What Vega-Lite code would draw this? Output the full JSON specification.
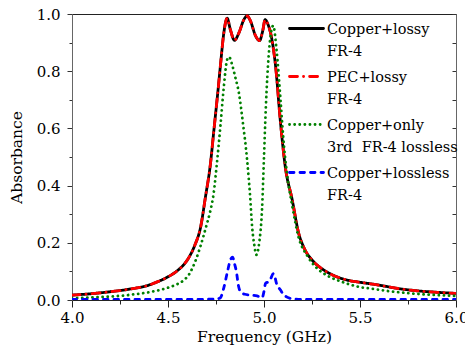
{
"$schema": "https://vega.github.io/schema/vega-lite/v6.json",
"width": 384, "height": 286,
"autosize": {"type": "none"},
"padding": {"left": 72, "top": 14, "right": 9, "bottom": 47},
"background": "white",
"config": {"view": {"stroke": "#222", "strokeWidth": 1}, "font": "DejaVu Serif"},
"data": {"values": [
{"f":4.00,"a":0.017,"s":"Copper+lossy"},{"f":4.10,"a":0.022,"s":"Copper+lossy"},{"f":4.20,"a":0.029,"s":"Copper+lossy"},{"f":4.30,"a":0.038,"s":"Copper+lossy"},{"f":4.40,"a":0.052,"s":"Copper+lossy"},{"f":4.45,"a":0.065,"s":"Copper+lossy"},{"f":4.50,"a":0.081,"s":"Copper+lossy"},{"f":4.55,"a":0.103,"s":"Copper+lossy"},{"f":4.58,"a":0.122,"s":"Copper+lossy"},{"f":4.61,"a":0.150,"s":"Copper+lossy"},{"f":4.64,"a":0.192,"s":"Copper+lossy"},{"f":4.67,"a":0.255,"s":"Copper+lossy"},{"f":4.695,"a":0.36,"s":"Copper+lossy"},{"f":4.72,"a":0.47,"s":"Copper+lossy"},{"f":4.74,"a":0.60,"s":"Copper+lossy"},{"f":4.76,"a":0.73,"s":"Copper+lossy"},{"f":4.776,"a":0.84,"s":"Copper+lossy"},{"f":4.79,"a":0.93,"s":"Copper+lossy"},{"f":4.808,"a":0.985,"s":"Copper+lossy"},{"f":4.825,"a":0.945,"s":"Copper+lossy"},{"f":4.846,"a":0.908,"s":"Copper+lossy"},{"f":4.87,"a":0.935,"s":"Copper+lossy"},{"f":4.895,"a":0.98,"s":"Copper+lossy"},{"f":4.912,"a":0.993,"s":"Copper+lossy"},{"f":4.93,"a":0.975,"s":"Copper+lossy"},{"f":4.955,"a":0.925,"s":"Copper+lossy"},{"f":4.977,"a":0.907,"s":"Copper+lossy"},{"f":4.993,"a":0.94,"s":"Copper+lossy"},{"f":5.006,"a":0.98,"s":"Copper+lossy"},{"f":5.02,"a":0.965,"s":"Copper+lossy"},{"f":5.04,"a":0.915,"s":"Copper+lossy"},{"f":5.06,"a":0.82,"s":"Copper+lossy"},{"f":5.086,"a":0.62,"s":"Copper+lossy"},{"f":5.11,"a":0.47,"s":"Copper+lossy"},{"f":5.147,"a":0.35,"s":"Copper+lossy"},{"f":5.18,"a":0.235,"s":"Copper+lossy"},{"f":5.21,"a":0.18,"s":"Copper+lossy"},{"f":5.25,"a":0.14,"s":"Copper+lossy"},{"f":5.30,"a":0.11,"s":"Copper+lossy"},{"f":5.35,"a":0.09,"s":"Copper+lossy"},{"f":5.43,"a":0.07,"s":"Copper+lossy"},{"f":5.50,"a":0.062,"s":"Copper+lossy"},{"f":5.59,"a":0.053,"s":"Copper+lossy"},{"f":5.70,"a":0.040,"s":"Copper+lossy"},{"f":5.80,"a":0.032,"s":"Copper+lossy"},{"f":5.90,"a":0.027,"s":"Copper+lossy"},{"f":6.00,"a":0.023,"s":"Copper+lossy"},
{"f":4.00,"a":0.017,"s":"PEC+lossy"},{"f":4.10,"a":0.022,"s":"PEC+lossy"},{"f":4.20,"a":0.029,"s":"PEC+lossy"},{"f":4.30,"a":0.038,"s":"PEC+lossy"},{"f":4.40,"a":0.052,"s":"PEC+lossy"},{"f":4.45,"a":0.065,"s":"PEC+lossy"},{"f":4.50,"a":0.081,"s":"PEC+lossy"},{"f":4.55,"a":0.103,"s":"PEC+lossy"},{"f":4.58,"a":0.122,"s":"PEC+lossy"},{"f":4.61,"a":0.150,"s":"PEC+lossy"},{"f":4.64,"a":0.192,"s":"PEC+lossy"},{"f":4.67,"a":0.255,"s":"PEC+lossy"},{"f":4.695,"a":0.36,"s":"PEC+lossy"},{"f":4.72,"a":0.47,"s":"PEC+lossy"},{"f":4.74,"a":0.60,"s":"PEC+lossy"},{"f":4.76,"a":0.73,"s":"PEC+lossy"},{"f":4.776,"a":0.84,"s":"PEC+lossy"},{"f":4.79,"a":0.93,"s":"PEC+lossy"},{"f":4.808,"a":0.985,"s":"PEC+lossy"},{"f":4.825,"a":0.945,"s":"PEC+lossy"},{"f":4.846,"a":0.908,"s":"PEC+lossy"},{"f":4.87,"a":0.935,"s":"PEC+lossy"},{"f":4.895,"a":0.98,"s":"PEC+lossy"},{"f":4.912,"a":0.993,"s":"PEC+lossy"},{"f":4.93,"a":0.975,"s":"PEC+lossy"},{"f":4.955,"a":0.925,"s":"PEC+lossy"},{"f":4.977,"a":0.907,"s":"PEC+lossy"},{"f":4.993,"a":0.94,"s":"PEC+lossy"},{"f":5.006,"a":0.98,"s":"PEC+lossy"},{"f":5.02,"a":0.965,"s":"PEC+lossy"},{"f":5.04,"a":0.915,"s":"PEC+lossy"},{"f":5.06,"a":0.82,"s":"PEC+lossy"},{"f":5.086,"a":0.62,"s":"PEC+lossy"},{"f":5.11,"a":0.47,"s":"PEC+lossy"},{"f":5.147,"a":0.35,"s":"PEC+lossy"},{"f":5.18,"a":0.235,"s":"PEC+lossy"},{"f":5.21,"a":0.18,"s":"PEC+lossy"},{"f":5.25,"a":0.14,"s":"PEC+lossy"},{"f":5.30,"a":0.11,"s":"PEC+lossy"},{"f":5.35,"a":0.09,"s":"PEC+lossy"},{"f":5.43,"a":0.07,"s":"PEC+lossy"},{"f":5.50,"a":0.062,"s":"PEC+lossy"},{"f":5.59,"a":0.053,"s":"PEC+lossy"},{"f":5.70,"a":0.040,"s":"PEC+lossy"},{"f":5.80,"a":0.032,"s":"PEC+lossy"},{"f":5.90,"a":0.027,"s":"PEC+lossy"},{"f":6.00,"a":0.023,"s":"PEC+lossy"},
{"f":4.00,"a":0.006,"s":"Copper+only"},{"f":4.10,"a":0.009,"s":"Copper+only"},{"f":4.20,"a":0.012,"s":"Copper+only"},{"f":4.30,"a":0.018,"s":"Copper+only"},{"f":4.40,"a":0.027,"s":"Copper+only"},{"f":4.50,"a":0.043,"s":"Copper+only"},{"f":4.55,"a":0.056,"s":"Copper+only"},{"f":4.58,"a":0.068,"s":"Copper+only"},{"f":4.61,"a":0.09,"s":"Copper+only"},{"f":4.642,"a":0.135,"s":"Copper+only"},{"f":4.67,"a":0.19,"s":"Copper+only"},{"f":4.70,"a":0.26,"s":"Copper+only"},{"f":4.72,"a":0.31,"s":"Copper+only"},{"f":4.738,"a":0.374,"s":"Copper+only"},{"f":4.755,"a":0.48,"s":"Copper+only"},{"f":4.773,"a":0.608,"s":"Copper+only"},{"f":4.79,"a":0.74,"s":"Copper+only"},{"f":4.808,"a":0.84,"s":"Copper+only"},{"f":4.818,"a":0.85,"s":"Copper+only"},{"f":4.835,"a":0.82,"s":"Copper+only"},{"f":4.85,"a":0.78,"s":"Copper+only"},{"f":4.869,"a":0.725,"s":"Copper+only"},{"f":4.89,"a":0.62,"s":"Copper+only"},{"f":4.912,"a":0.49,"s":"Copper+only"},{"f":4.928,"a":0.36,"s":"Copper+only"},{"f":4.938,"a":0.257,"s":"Copper+only"},{"f":4.95,"a":0.19,"s":"Copper+only"},{"f":4.96,"a":0.158,"s":"Copper+only"},{"f":4.975,"a":0.2,"s":"Copper+only"},{"f":4.99,"a":0.32,"s":"Copper+only"},{"f":5.0,"a":0.5,"s":"Copper+only"},{"f":5.01,"a":0.68,"s":"Copper+only"},{"f":5.025,"a":0.86,"s":"Copper+only"},{"f":5.048,"a":0.959,"s":"Copper+only"},{"f":5.065,"a":0.877,"s":"Copper+only"},{"f":5.086,"a":0.70,"s":"Copper+only"},{"f":5.10,"a":0.57,"s":"Copper+only"},{"f":5.12,"a":0.44,"s":"Copper+only"},{"f":5.147,"a":0.33,"s":"Copper+only"},{"f":5.18,"a":0.22,"s":"Copper+only"},{"f":5.225,"a":0.155,"s":"Copper+only"},{"f":5.27,"a":0.115,"s":"Copper+only"},{"f":5.33,"a":0.085,"s":"Copper+only"},{"f":5.40,"a":0.065,"s":"Copper+only"},{"f":5.50,"a":0.045,"s":"Copper+only"},{"f":5.556,"a":0.04,"s":"Copper+only"},{"f":5.65,"a":0.031,"s":"Copper+only"},{"f":5.75,"a":0.024,"s":"Copper+only"},{"f":5.85,"a":0.019,"s":"Copper+only"},{"f":6.00,"a":0.014,"s":"Copper+only"},
{"f":4.00,"a":0.002,"s":"Copper+lossless"},{"f":4.30,"a":0.002,"s":"Copper+lossless"},{"f":4.60,"a":0.002,"s":"Copper+lossless"},{"f":4.75,"a":0.003,"s":"Copper+lossless"},{"f":4.773,"a":0.008,"s":"Copper+lossless"},{"f":4.79,"a":0.041,"s":"Copper+lossless"},{"f":4.81,"a":0.10,"s":"Copper+lossless"},{"f":4.825,"a":0.14,"s":"Copper+lossless"},{"f":4.837,"a":0.15,"s":"Copper+lossless"},{"f":4.845,"a":0.13,"s":"Copper+lossless"},{"f":4.856,"a":0.10,"s":"Copper+lossless"},{"f":4.867,"a":0.05,"s":"Copper+lossless"},{"f":4.877,"a":0.029,"s":"Copper+lossless"},{"f":4.90,"a":0.02,"s":"Copper+lossless"},{"f":4.93,"a":0.017,"s":"Copper+lossless"},{"f":4.956,"a":0.015,"s":"Copper+lossless"},{"f":4.975,"a":0.012,"s":"Copper+lossless"},{"f":4.99,"a":0.008,"s":"Copper+lossless"},{"f":5.0,"a":0.03,"s":"Copper+lossless"},{"f":5.008,"a":0.058,"s":"Copper+lossless"},{"f":5.025,"a":0.065,"s":"Copper+lossless"},{"f":5.035,"a":0.075,"s":"Copper+lossless"},{"f":5.048,"a":0.092,"s":"Copper+lossless"},{"f":5.055,"a":0.085,"s":"Copper+lossless"},{"f":5.065,"a":0.058,"s":"Copper+lossless"},{"f":5.086,"a":0.035,"s":"Copper+lossless"},{"f":5.10,"a":0.02,"s":"Copper+lossless"},{"f":5.12,"a":0.01,"s":"Copper+lossless"},{"f":5.15,"a":0.004,"s":"Copper+lossless"},{"f":5.2,"a":0.002,"s":"Copper+lossless"},{"f":5.5,"a":0.002,"s":"Copper+lossless"},{"f":6.0,"a":0.002,"s":"Copper+lossless"}
]},
"encoding": {
  "x": {"field": "f", "type": "quantitative", "scale": {"domain": [4, 6], "nice": false},
    "axis": {"values": [4, 4.25, 4.5, 4.75, 5, 5.25, 5.5, 5.75, 6],
      "labelExpr": "datum.value % 0.5 == 0 ? format(datum.value, '.1f') : ''",
      "tickSize": {"condition": {"test": "datum.value % 0.5 != 0", "value": 4}, "value": 7},
      "title": "Frequency (GHz)", "titleFontSize": 15.5, "titleFontWeight": "normal", "titleFont": "DejaVu Serif", "titleColor": "black", "titlePadding": 4,
      "labelFontSize": 15, "labelFont": "DejaVu Serif", "labelColor": "black", "labelPadding": 3, "labelFlush": false, "labelOverlap": false,
      "domainColor": "#222", "tickColor": "#222", "grid": false}}
},
"layer": [
  {
    "mark": {"type": "line", "interpolate": "monotone", "strokeWidth": 2.8, "strokeCap": "round", "clip": true},
    "encoding": {
      "y": {"field": "a", "type": "quantitative", "scale": {"domain": [0, 1], "nice": false},
        "axis": {"values": [0, 0.1, 0.2, 0.3, 0.4, 0.5, 0.6, 0.7, 0.8, 0.9, 1.0],
          "labelExpr": "round(datum.value * 10) % 2 == 0 ? format(datum.value, '.1f') : ''",
          "tickSize": {"condition": {"test": "round(datum.value * 10) % 2 != 0", "value": 3}, "value": 5},
          "title": "Absorbance", "titleFontSize": 15.5, "titleFontWeight": "normal", "titleFont": "DejaVu Serif", "titleColor": "black", "titlePadding": 12,
          "labelFontSize": 15, "labelFont": "DejaVu Serif", "labelColor": "black", "labelPadding": 7, "labelFlush": false, "labelOverlap": false,
          "domainColor": "#666", "tickColor": "#333", "grid": false}},
      "color": {"field": "s", "type": "nominal",
        "scale": {"domain": ["Copper+lossy", "PEC+lossy", "Copper+only", "Copper+lossless"], "range": ["#000000", "#ff0000", "#008000", "#0000ff"]},
        "legend": {"orient": "none", "legendX": 216, "legendY": -4, "title": null, "padding": 0,
          "labelFontSize": 14.5, "labelFont": "DejaVu Serif", "labelColor": "black", "labelLimit": 300,
          "labelExpr": "datum.label == 'Copper+lossy' ? ['Copper+lossy', 'FR-4'] : datum.label == 'PEC+lossy' ? ['PEC+lossy', 'FR-4'] : datum.label == 'Copper+only' ? ['Copper+only', '3rd\u00a0 FR-4 lossless'] : ['Copper+lossless', 'FR-4']",
          "labelBaseline": "alphabetic", "labelOffset": 2, "rowPadding": -7,
          "symbolType": "stroke", "symbolSize": 1156, "symbolStrokeWidth": 2.8,
          "encode": {"labels": {"update": {"lineHeight": {"value": 22}, "dy": {"value": 5}}}, "symbols": {"update": {"strokeCap": {"value": "round"}}}}}},
      "strokeDash": {"field": "s", "type": "nominal",
        "scale": {"domain": ["Copper+lossy", "PEC+lossy", "Copper+only", "Copper+lossless"], "range": [[1, 0], [8, 6, 0.1, 6], [0.1, 5], [4.5, 6]]}}
    }
  },
  {
    "mark": {"type": "line", "opacity": 0},
    "encoding": {
      "y": {"field": "a", "type": "quantitative", "scale": {"domain": [0, 1], "nice": false},
        "axis": {"orient": "right", "values": [0, 0.1, 0.2, 0.3, 0.4, 0.5, 0.6, 0.7, 0.8, 0.9, 1.0], "labels": false, "title": null, "tickSize": -4, "domainColor": "#666", "tickColor": "#333", "grid": false}}
    }
  }
],
"resolve": {"axis": {"y": "independent"}}
}
